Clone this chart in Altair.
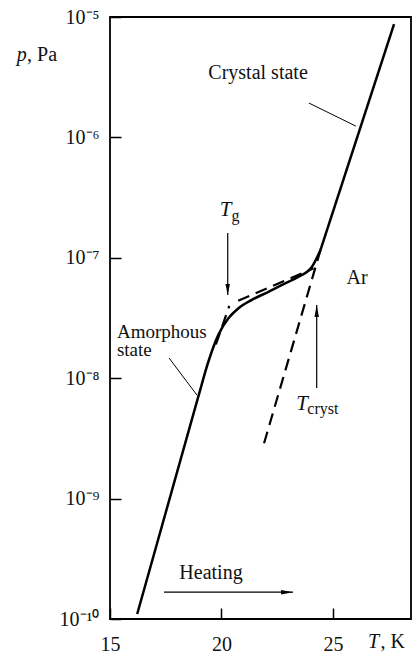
import altair as alt
import pandas as pd

FONT = "Liberation Serif"
INK = "#111111"

# Vapour pressure of Ar film on heating: amorphous branch and glass/crystallisation bend (T in K, p in Pa)
amorph_T = [16.22, 18.96, 19.4, 19.86, 20.31, 20.76, 21.36, 22.11, 22.86, 23.46, 24.06, 24.45]
amorph_p = [1.10e-10, 7.02e-9, 1.35e-8, 2.29e-8, 3.14e-8, 3.81e-8, 4.47e-8, 5.22e-8, 6.14e-8, 6.97e-8, 8.43e-8, 1.175e-7]

# crystalline branch
cryst_T = [24.45, 27.74]
cryst_p = [1.175e-7, 8.71e-6]

# dashed extrapolations
ext_seg = ["amorphous", "amorphous", "liquid", "liquid", "crystal", "crystal"]
ext_T = [19.75, 20.35, 20.75, 24.13, 24.45, 21.91]
ext_p = [1.91e-8, 3.98e-8, 4.40e-8, 8.18e-8, 1.175e-7, 2.88e-9]

# axis ticks
x_ticks = [15, 20, 25]
y_ticks = [1e-10, 1e-9, 1e-8, 1e-7, 1e-6, 1e-5]

# leader lines from labels to curves
leader_T = [23.92, 17.65]
leader_T2 = [26.03, 18.90]
leader_p = [1.93e-6, 1.47e-8]
leader_p2 = [1.24e-6, 7.24e-9]

# arrows: heating (horizontal), T_g (down), T_cryst (up)
arrow_name = ["heating", "tg", "tcryst"]
arrow_T = [17.42, 20.28, 24.27]
arrow_T2 = [23.21, 20.28, 24.27]
arrow_p = [1.67e-10, 1.61e-7, 8.30e-9]
arrow_p2 = [1.67e-10, 4.91e-8, 4.06e-8]

# text labels
center_text = ["Crystal state", "Heating", "Ar"]
center_T = [21.64, 19.53, 26.08]
center_p = [3.43e-6, 2.40e-10, 6.79e-8]

amorph_text = ["Amorphous", "state"]
amorph_text_T = [15.31, 15.31]
amorph_text_p = [2.44e-8, 1.73e-8]

sym_T = [20.19, 23.61]
sym_p = [2.49e-7, 6.11e-9]
sub_text = ["g", "cryst"]
sub_T = [20.45, 23.85]
sub_p = [2.22e-7, 5.52e-9]

# axis titles: italic symbol + unit
title_sym = ["p", "T"]
title_unit = [", Pa", ", K"]
title_sym_T = [10.82, 26.57]
title_unit_T = [11.28, 27.13]
title_p = [4.31e-6, 5.74e-11]

xs = alt.Scale(domain=[15, 28.5], nice=False, zero=False)
ys = alt.Scale(type="log", domain=[1e-10, 1e-5], nice=False)

sup = {"0": "⁰", "1": "¹", "5": "⁵", "6": "⁶", "7": "⁷", "8": "⁸", "9": "⁹"}
def sup_label(e):
    return "10⁻" + "".join(sup[c] for c in str(-e))

expo = "round(log(datum.value)/LN10)"
label_expr = " : ".join(f"{expo} == {e} ? '{sup_label(e)}'" for e in range(-10, -4)) + " : ''"

x_axis = alt.Axis(values=x_ticks, offset=-11, tickSize=11, tickWidth=1.5, tickColor="black",
                  domain=False, grid=False, labelPadding=15, labelFlush=False, labelOverlap=False,
                  labelFont=FONT, labelFontSize=20, labelColor=INK, title=None)
y_axis = alt.Axis(values=y_ticks, offset=-11, tickSize=11, tickWidth=1.5, tickColor="black",
                  domain=False, grid=False, labelPadding=11, labelFlush=False, labelOverlap=False,
                  labelFont=FONT, labelFontSize=20, labelColor=INK, labelExpr=label_expr, title=None)

amorph_df = pd.DataFrame({"T": amorph_T, "p": amorph_p})
cryst_df = pd.DataFrame({"T": cryst_T, "p": cryst_p})
ext_df = pd.DataFrame({"seg": ext_seg, "T": ext_T, "p": ext_p})

amorph_line = alt.Chart(amorph_df).mark_line(
    color="black", strokeWidth=2.5, interpolate="monotone", clip=True
).encode(
    x=alt.X("T:Q", scale=xs, axis=x_axis),
    y=alt.Y("p:Q", scale=ys, axis=y_axis),
    order="T:Q",
)

cryst_line = alt.Chart(cryst_df).mark_line(color="black", strokeWidth=2.5, clip=True).encode(
    x=alt.X("T:Q", scale=xs), y=alt.Y("p:Q", scale=ys)
)

ext_lines = alt.Chart(ext_df).mark_line(
    color="black", strokeWidth=2.2, strokeDash=[12, 7]
).encode(
    x=alt.X("T:Q", scale=xs), y=alt.Y("p:Q", scale=ys), detail="seg:N", order=alt.Order("T:Q")
)

leaders = alt.Chart(pd.DataFrame({"T": leader_T, "T2": leader_T2, "p": leader_p, "p2": leader_p2})).mark_rule(
    color="black", strokeWidth=1
).encode(x=alt.X("T:Q", scale=xs), x2="T2:Q", y=alt.Y("p:Q", scale=ys), y2="p2:Q")

arrow_df = pd.DataFrame({"name": arrow_name, "T": arrow_T, "T2": arrow_T2, "p": arrow_p, "p2": arrow_p2})
shafts = alt.Chart(arrow_df).mark_rule(color="black", strokeWidth=1.2).encode(
    x=alt.X("T:Q", scale=xs), x2="T2:Q", y=alt.Y("p:Q", scale=ys), y2="p2:Q"
)

def head(name, path):
    return alt.Chart(arrow_df).transform_filter(alt.datum.name == name).mark_point(
        shape=path, size=100, filled=True, color="black", opacity=1, strokeWidth=0
    ).encode(x=alt.X("T2:Q", scale=xs), y=alt.Y("p2:Q", scale=ys))

head_right = head("heating", "M0,0 L-2.4,-0.45 L-2.4,0.45 Z")
head_down = head("tg", "M0,0 L-0.45,-2.2 L0.45,-2.2 Z")
head_up = head("tcryst", "M0,0 L-0.45,2.4 L0.45,2.4 Z")

center_labels = alt.Chart(pd.DataFrame({"t": center_text, "T": center_T, "p": center_p})).mark_text(
    font=FONT, fontSize=20, color=INK, align="center", baseline="middle"
).encode(x=alt.X("T:Q", scale=xs), y=alt.Y("p:Q", scale=ys), text="t:N")

amorph_labels = alt.Chart(pd.DataFrame({"t": amorph_text, "T": amorph_text_T, "p": amorph_text_p})).mark_text(
    font=FONT, fontSize=19, color=INK, align="left", baseline="middle"
).encode(x=alt.X("T:Q", scale=xs), y=alt.Y("p:Q", scale=ys), text="t:N")

sym_labels = alt.Chart(pd.DataFrame({"t": ["T", "T"], "T": sym_T, "p": sym_p})).mark_text(
    font=FONT, fontSize=21, fontStyle="italic", color=INK, align="center", baseline="middle"
).encode(x=alt.X("T:Q", scale=xs), y=alt.Y("p:Q", scale=ys), text="t:N")

sub_labels = alt.Chart(pd.DataFrame({"t": sub_text, "T": sub_T, "p": sub_p})).mark_text(
    font=FONT, fontSize=16, color=INK, align="left", baseline="middle"
).encode(x=alt.X("T:Q", scale=xs), y=alt.Y("p:Q", scale=ys), text="t:N")

title_syms = alt.Chart(pd.DataFrame({"t": title_sym, "T": title_sym_T, "p": title_p})).mark_text(
    font=FONT, fontSize=20, fontStyle="italic", color=INK, align="left", baseline="alphabetic"
).encode(x=alt.X("T:Q", scale=xs), y=alt.Y("p:Q", scale=ys), text="t:N")

title_units = alt.Chart(pd.DataFrame({"t": title_unit, "T": title_unit_T, "p": title_p})).mark_text(
    font=FONT, fontSize=20, color=INK, align="left", baseline="alphabetic"
).encode(x=alt.X("T:Q", scale=xs), y=alt.Y("p:Q", scale=ys), text="t:N")

chart = alt.layer(
    amorph_line, cryst_line, ext_lines, leaders, shafts, head_right, head_down, head_up,
    center_labels, amorph_labels, sym_labels, sub_labels, title_syms, title_units,
).properties(
    width=301, height=602,
    autosize=alt.AutoSizeParams(type="none"),
    padding={"left": 110, "top": 17, "right": 4, "bottom": 36},
    background="white",
).configure_view(stroke="black", strokeWidth=1.8)

chart.save("out.html", embed_options={"renderer": "svg", "actions": False})
